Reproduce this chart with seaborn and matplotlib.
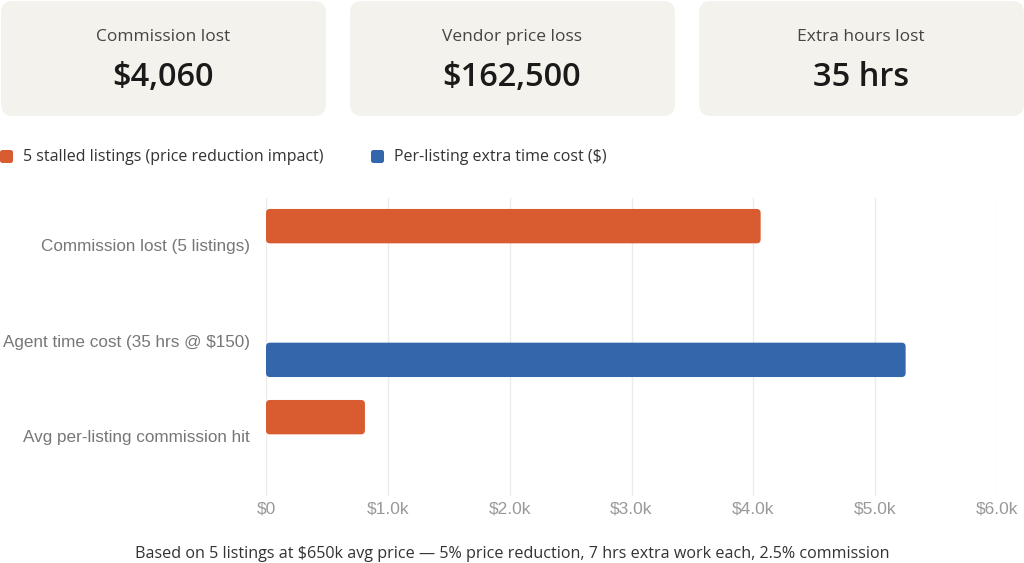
import pandas as pd
import seaborn as sns
import matplotlib.pyplot as plt
from matplotlib.patches import FancyBboxPatch
from matplotlib.ticker import FuncFormatter

# data
categories = ['Commission lost (5 listings)', 'Agent time cost (35 hrs @ $150)', 'Avg per-listing commission hit']
series_names = ['5 stalled listings (price reduction impact)', 'Per-listing extra time cost ($)']
stalled_values = [4060, None, 812]
time_values = [None, 5250, None]
card_labels = ['Commission lost', 'Vendor price loss', 'Extra hours lost']
card_values = ['$4,060', '$162,500', '35 hrs']
footer = 'Based on 5 listings at $650k avg price \u2014 5% price reduction, 7 hrs extra work each, 2.5% commission'

colors = ['#d95b30', '#3366ab']

rows = []
for c, a, b in zip(categories, stalled_values, time_values):
    rows.append({'category': c, 'series': series_names[0], 'value': a})
    rows.append({'category': c, 'series': series_names[1], 'value': b})
df = pd.DataFrame(rows)

sns.set_theme(style='white')
plt.rcParams['font.family'] = ['Liberation Sans', 'DejaVu Sans']

fig = plt.figure(figsize=(10.24, 5.63), dpi=100)
W, H = 1024, 563
ui_font = ['Open Sans', 'DejaVu Sans']

# summary cards
card_ax = fig.add_axes([0, 0, 1, 1], zorder=-1)
card_ax.set_xlim(0, W)
card_ax.set_ylim(H, 0)
card_ax.axis('off')
card_x = [0, 349, 698]
for x0, lab, val in zip(card_x, card_labels, card_values):
    card_ax.add_patch(FancyBboxPatch((x0 + 1, 1), 325, 115,
                                     boxstyle='round,pad=0,rounding_size=12',
                                     fc='#f3f2ec', ec='none'))
    card_ax.text(x0 + 163, 37, lab, ha='center', va='center', fontsize=12.5,
                 color='#444444', family=ui_font)
    card_ax.text(x0 + 163, 77, val, ha='center', va='center', fontsize=23.5,
                 color='#1a1a1a', family=ui_font, fontweight='semibold')

# legend
for lx, name, col in zip([7, 378], series_names, colors):
    card_ax.add_patch(FancyBboxPatch((lx - 7, 150), 13, 13,
                                     boxstyle='round,pad=0,rounding_size=2.5',
                                     fc=col, ec='none'))
    card_ax.text(lx + 16, 157, name, ha='left', va='center', fontsize=11.5,
                 color='#333333', family=ui_font)

card_ax.text(512, 554, footer, ha='center', va='center', fontsize=11.6,
             color='#333333', family=ui_font)

# bar chart
top_px, bot_px = 197.5, 496
ax = fig.add_axes([266 / W, 1 - bot_px / H, (997 - 266) / W, (bot_px - top_px) / H])
sns.barplot(data=df, y='category', x='value', hue='series', orient='h',
            palette=colors, saturation=1, width=0.8, gap=0.1, legend=False, ax=ax)

ymax = -0.5 + (bot_px - top_px) / 95.5
ax.set_xlim(0, 6000)
ax.set_ylim(ymax, -0.5)

# round bar corners
xr = 6000 / (997 - 266)
yr = (ymax + 0.5) / (bot_px - top_px)
for p in list(ax.patches):
    w = p.get_width()
    if w != w or w == 0:
        continue
    fb = FancyBboxPatch((p.get_x(), p.get_y()), w, p.get_height(),
                        boxstyle='round,pad=0,rounding_size=%f' % (4 * xr),
                        mutation_aspect=yr / xr, fc=p.get_facecolor(), ec='none', zorder=3)
    p.remove()
    ax.add_patch(fb)

ax.set_xticks(range(0, 6001, 1000))
ax.xaxis.set_major_formatter(FuncFormatter(lambda v, _: '$0' if v == 0 else '$%.1fk' % (v / 1000)))
ax.grid(axis='x', color='#ebebeb', linewidth=1)
ax.grid(axis='y', visible=False)
ax.set_axisbelow(True)
for s in ax.spines.values():
    s.set_visible(False)
ax.set_xlabel('')
ax.set_ylabel('')
ax.tick_params(axis='x', length=0, pad=4, labelsize=12.5, labelcolor='#999999')
ax.tick_params(axis='y', length=0, pad=11.5, labelsize=12.3, labelcolor='#777777')

fig.savefig('out.png', dpi=100)
